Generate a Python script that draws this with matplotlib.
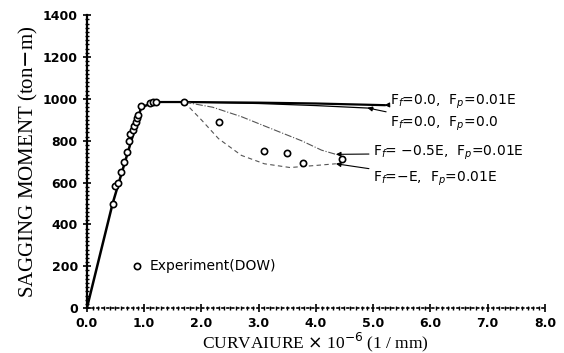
import matplotlib.pyplot as plt
import numpy as np
from matplotlib.ticker import MultipleLocator

# Curvature (x 1e-6 1/mm) vs sagging moment (ton-m)
elastic_curv = [0.0, 0.45, 0.95, 1.2]
elastic_mom = [0, 500, 960, 985]

# post-ultimate branches for each material assumption
case_ff0_fp001_curv = [1.2, 1.7, 3.0, 4.0, 5.2]
case_ff0_fp001_mom = [985, 985, 982, 978, 970]

case_ff0_fp0_curv = [1.2, 1.7, 3.0, 4.0, 5.0]
case_ff0_fp0_mom = [985, 985, 978, 968, 955]

case_ff05_curv = [1.7, 2.2, 2.7, 3.2, 3.75, 4.1, 4.35]
case_ff05_mom = [985, 960, 915, 860, 800, 755, 735]

case_ffE_curv = [1.7, 2.0, 2.3, 2.7, 3.1, 3.55, 4.0, 4.35]
case_ffE_mom = [985, 900, 810, 730, 690, 672, 682, 690]

# experiment (DOW)
exp_curv = [0.45, 0.5, 0.55, 0.6, 0.65, 0.7, 0.74, 0.76, 0.8, 0.83, 0.86,
            0.88, 0.9, 0.95, 1.1, 1.15, 1.2, 1.7, 2.3, 3.1, 3.5, 3.78, 4.45]
exp_mom = [500, 585, 600, 650, 700, 745, 800, 830, 850, 870, 890,
           910, 925, 965, 980, 985, 985, 985, 890, 750, 740, 693, 712]

labels = ['F$_f$=0.0,  F$_p$=0.01E',
          'F$_f$=0.0,  F$_p$=0.0',
          'F$_f$= $-$0.5E,  F$_p$=0.01E',
          'F$_f$=$-$E,  F$_p$=0.01E']
# (curve end point, label position) in data units
label_tips = [(5.2, 970), (4.9, 957), (4.35, 735), (4.35, 690)]
label_pos = [(5.3, 985), (5.3, 880), (5.0, 740), (5.0, 620)]

fig = plt.figure(figsize=(5.64, 3.53), dpi=100)
ax = fig.add_axes([0.154, 0.127, 0.812, 0.83])

ax.plot(elastic_curv, elastic_mom, color='black', lw=1.8)
ax.plot(case_ff0_fp001_curv, case_ff0_fp001_mom, color='black', lw=1.6)
ax.plot(case_ff0_fp0_curv, case_ff0_fp0_mom, color='black', lw=0.9)
ax.plot(case_ff05_curv, case_ff05_mom, color='#555555', lw=0.8, ls='-.')
ax.plot(case_ffE_curv, case_ffE_mom, color='#555555', lw=0.8, ls=(0, (4, 3)))

ax.plot(exp_curv, exp_mom, 'o', mfc='white', mec='black', ms=4.5, mew=1.2)

txt_font = dict(family='DejaVu Sans', fontsize=10, color='black')
for lab, tip, pos in zip(labels, label_tips, label_pos):
    ax.annotate(lab, xy=tip, xytext=pos, va='center', ha='left',
                arrowprops=dict(arrowstyle='-|>', color='black', lw=0.8,
                                mutation_scale=7, shrinkA=1, shrinkB=0),
                **txt_font)

# experiment key
ax.plot([0.87], [200], 'o', mfc='white', mec='black', ms=4.5, mew=1.2)
ax.text(1.1, 200, 'Experiment(DOW)', va='center', ha='left', **txt_font)

ax.set_xlim(0, 8)
ax.set_ylim(0, 1400)
ax.xaxis.set_major_locator(MultipleLocator(1.0))
ax.xaxis.set_minor_locator(MultipleLocator(0.1))
ax.yaxis.set_major_locator(MultipleLocator(200))
ax.yaxis.set_minor_locator(MultipleLocator(20))
ax.set_xticklabels([f'{v:.1f}' for v in ax.get_xticks()])

for side in ['top', 'right']:
    ax.spines[side].set_visible(False)
ax.spines['left'].set_linewidth(1.6)
ax.spines['bottom'].set_linestyle((0, (1, 2)))
ax.spines['bottom'].set_linewidth(1.2)
ax.tick_params(axis='both', which='major', direction='inout', length=6,
               width=1.2, labelsize=9)
ax.tick_params(axis='both', which='minor', direction='inout', length=3,
               width=1.0)
for lab in ax.get_xticklabels() + ax.get_yticklabels():
    lab.set_fontweight('bold')
    lab.set_family('DejaVu Sans')

ax.set_xlabel('CURVAIURE $\\times$ 10$^{-6}$ (1 / mm)', family='Liberation Serif',
              fontsize=12.5, labelpad=0)
ax.set_ylabel('SAGGING MOMENT (ton$-$m)', family='Liberation Serif',
              fontsize=15, labelpad=2)

fig.savefig('out.png', dpi=100)
